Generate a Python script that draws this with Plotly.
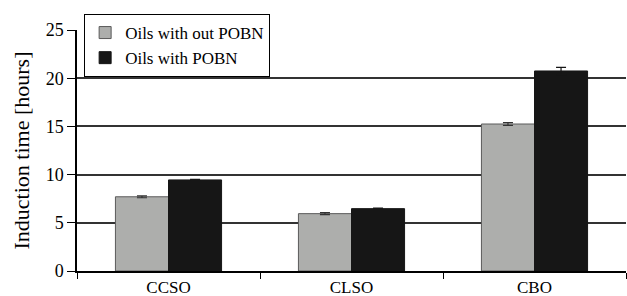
import plotly.graph_objects as go

categories = ["CCSO", "CLSO", "CBO"]
without_pobn = [7.7, 5.95, 15.25]
without_err = [0.1, 0.1, 0.15]
with_pobn = [9.45, 6.47, 20.75]
with_err = [0.05, 0.05, 0.38]
y_ticks = [0, 5, 10, 15, 20, 25]

font = "Liberation Serif"

fig = go.Figure()
fig.add_trace(go.Bar(
    x=categories, y=without_pobn, name="Oils with out POBN",
    marker=dict(color="#adaeac", line=dict(color="#5a5a5a", width=1)),
    error_y=dict(type="data", array=without_err, color="#333333", thickness=1.2, width=5),
))
fig.add_trace(go.Bar(
    x=categories, y=with_pobn, name="Oils with POBN",
    marker=dict(color="#161616", line=dict(color="#161616", width=1)),
    error_y=dict(type="data", array=with_err, color="#161616", thickness=1.2, width=5),
))

fig.update_layout(
    width=627, height=296,
    margin=dict(l=77, r=1, t=14, b=25, autoexpand=False),
    paper_bgcolor="white", plot_bgcolor="white",
    barmode="group", bargap=0.42, bargroupgap=0,
    font=dict(family=font, size=18, color="black"),
    showlegend=True,
    legend=dict(
        x=0.013, y=1.0, xanchor="left", yanchor="top",
        bordercolor="black", borderwidth=1, bgcolor="white",
        font=dict(family=font, size=17, color="black"),
        tracegroupgap=0, itemwidth=30,
    ),
    xaxis=dict(
        showline=True, linecolor="black", linewidth=1.5,
        ticks="outside", tickson="boundaries", ticklen=6, tickcolor="black",
        showgrid=False, tickfont=dict(family=font, size=17, color="black"),
        automargin=False,
    ),
    yaxis=dict(
        range=[0, 25], tickvals=y_ticks, domain=[0, 0.9377],
        showline=True, linecolor="black", linewidth=1.5,
        ticks="outside", ticklen=8, tickcolor="black",
        showgrid=True, gridcolor="#333333", gridwidth=1.5,
        zeroline=False, automargin=False,
        title=dict(text="Induction time [hours]",
                   font=dict(family=font, size=22, color="black"), standoff=10),
        tickfont=dict(family=font, size=18, color="black"),
    ),
)

fig.write_html(
    "out.html",
    config={"displayModeBar": False},
    post_script="document.body.style.margin='0';document.body.style.padding='0';",
)
